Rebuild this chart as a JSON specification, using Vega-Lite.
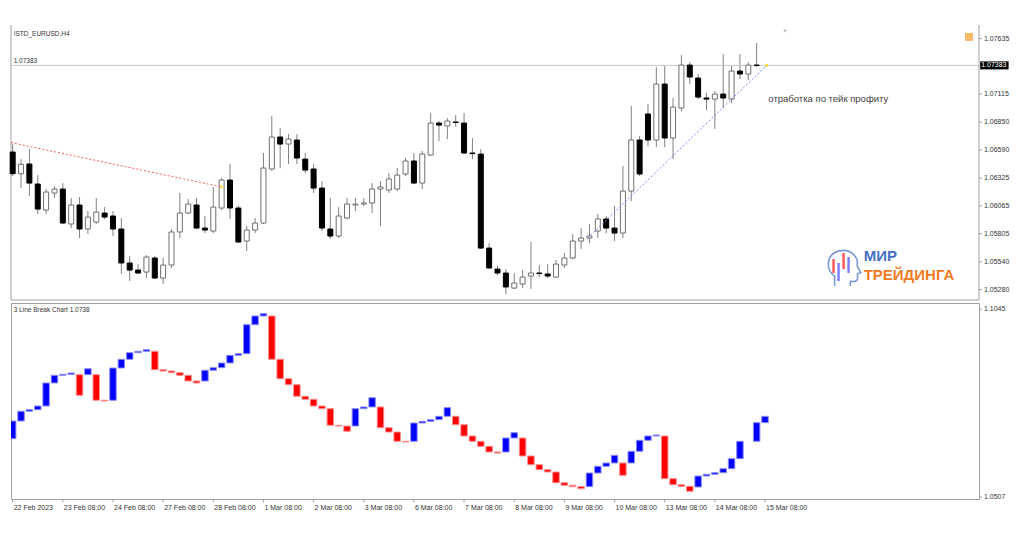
{
  "$schema": "https://vega.github.io/schema/vega-lite/v6.json",
  "padding": {"left": 9, "top": 24, "right": 0, "bottom": 0},
  "background": "#ffffff",
  "config": {
    "view": {"stroke": "#a0a0a0"},
    "text": {"font": "Liberation Sans"}
  },
  "spacing": 1,
  "resolve": {"scale": {"x": "independent", "y": "independent"}},
  "datasets": {
    "candles": [
      {"i":0,"o":1.06570,"h":1.06645,"l":1.06345,"c":1.06367},
      {"i":1,"o":1.06367,"h":1.06504,"l":1.06232,"c":1.06455},
      {"i":2,"o":1.06458,"h":1.06598,"l":1.06157,"c":1.06279},
      {"i":3,"o":1.06270,"h":1.06354,"l":1.05988,"c":1.06035},
      {"i":4,"o":1.06026,"h":1.06223,"l":1.05988,"c":1.06195},
      {"i":5,"o":1.06186,"h":1.06251,"l":1.06139,"c":1.06223},
      {"i":6,"o":1.06223,"h":1.06279,"l":1.05895,"c":1.05904},
      {"i":7,"o":1.05895,"h":1.06139,"l":1.05857,"c":1.06073},
      {"i":8,"o":1.06073,"h":1.06148,"l":1.05763,"c":1.05848},
      {"i":9,"o":1.05848,"h":1.06017,"l":1.05801,"c":1.05960},
      {"i":10,"o":1.05913,"h":1.06139,"l":1.05895,"c":1.06007},
      {"i":11,"o":1.05998,"h":1.06054,"l":1.05942,"c":1.05960},
      {"i":12,"o":1.05970,"h":1.06017,"l":1.05782,"c":1.05848},
      {"i":13,"o":1.05848,"h":1.05951,"l":1.05426,"c":1.05529},
      {"i":14,"o":1.05529,"h":1.05594,"l":1.05360,"c":1.05463},
      {"i":15,"o":1.05463,"h":1.05519,"l":1.05426,"c":1.05435},
      {"i":16,"o":1.05444,"h":1.05604,"l":1.05388,"c":1.05585},
      {"i":17,"o":1.05576,"h":1.05594,"l":1.05379,"c":1.05388},
      {"i":18,"o":1.05388,"h":1.05576,"l":1.05332,"c":1.05510},
      {"i":19,"o":1.05510,"h":1.05848,"l":1.05482,"c":1.05820},
      {"i":20,"o":1.05820,"h":1.06186,"l":1.05763,"c":1.05998},
      {"i":21,"o":1.05998,"h":1.06129,"l":1.05988,"c":1.06082},
      {"i":22,"o":1.06073,"h":1.06139,"l":1.05848,"c":1.05857},
      {"i":23,"o":1.05857,"h":1.05970,"l":1.05810,"c":1.05838},
      {"i":24,"o":1.05829,"h":1.06242,"l":1.05810,"c":1.06054},
      {"i":25,"o":1.06045,"h":1.06326,"l":1.06026,"c":1.06307},
      {"i":26,"o":1.06307,"h":1.06458,"l":1.05942,"c":1.06045},
      {"i":27,"o":1.06045,"h":1.06064,"l":1.05716,"c":1.05726},
      {"i":28,"o":1.05735,"h":1.05876,"l":1.05641,"c":1.05838},
      {"i":29,"o":1.05838,"h":1.05951,"l":1.05810,"c":1.05904},
      {"i":30,"o":1.05904,"h":1.06561,"l":1.05895,"c":1.06420},
      {"i":31,"o":1.06411,"h":1.06908,"l":1.06392,"c":1.06711},
      {"i":32,"o":1.06711,"h":1.06795,"l":1.06420,"c":1.06645},
      {"i":33,"o":1.06645,"h":1.06739,"l":1.06458,"c":1.06692},
      {"i":34,"o":1.06683,"h":1.06739,"l":1.06458,"c":1.06514},
      {"i":35,"o":1.06504,"h":1.06561,"l":1.06373,"c":1.06401},
      {"i":36,"o":1.06411,"h":1.06458,"l":1.06186,"c":1.06232},
      {"i":37,"o":1.06232,"h":1.06298,"l":1.05829,"c":1.05857},
      {"i":38,"o":1.05848,"h":1.06139,"l":1.05754,"c":1.05782},
      {"i":39,"o":1.05782,"h":1.06054,"l":1.05763,"c":1.05970},
      {"i":40,"o":1.05951,"h":1.06139,"l":1.05942,"c":1.06082},
      {"i":41,"o":1.06073,"h":1.06139,"l":1.06017,"c":1.06082},
      {"i":42,"o":1.06082,"h":1.06139,"l":1.06064,"c":1.06092},
      {"i":43,"o":1.06092,"h":1.06279,"l":1.05998,"c":1.06223},
      {"i":44,"o":1.06223,"h":1.06298,"l":1.05876,"c":1.06242},
      {"i":45,"o":1.06214,"h":1.06373,"l":1.06186,"c":1.06317},
      {"i":46,"o":1.06223,"h":1.06420,"l":1.06204,"c":1.06354},
      {"i":47,"o":1.06364,"h":1.06514,"l":1.06345,"c":1.06486},
      {"i":48,"o":1.06486,"h":1.06561,"l":1.06270,"c":1.06279},
      {"i":49,"o":1.06279,"h":1.06580,"l":1.06223,"c":1.06551},
      {"i":50,"o":1.06542,"h":1.06936,"l":1.06533,"c":1.06842},
      {"i":51,"o":1.06842,"h":1.06861,"l":1.06673,"c":1.06823},
      {"i":52,"o":1.06814,"h":1.06889,"l":1.06692,"c":1.06861},
      {"i":53,"o":1.06852,"h":1.06917,"l":1.06805,"c":1.06847},
      {"i":54,"o":1.06842,"h":1.06936,"l":1.06551,"c":1.06561},
      {"i":55,"o":1.06561,"h":1.06701,"l":1.06504,"c":1.06555},
      {"i":56,"o":1.06551,"h":1.06598,"l":1.05660,"c":1.05669},
      {"i":57,"o":1.05669,"h":1.05716,"l":1.05472,"c":1.05482},
      {"i":58,"o":1.05472,"h":1.05501,"l":1.05416,"c":1.05435},
      {"i":59,"o":1.05435,"h":1.05472,"l":1.05238,"c":1.05304},
      {"i":60,"o":1.05294,"h":1.05435,"l":1.05285,"c":1.05341},
      {"i":61,"o":1.05332,"h":1.05463,"l":1.05294,"c":1.05397},
      {"i":62,"o":1.05407,"h":1.05726,"l":1.05285,"c":1.05435},
      {"i":63,"o":1.05435,"h":1.05510,"l":1.05397,"c":1.05430},
      {"i":64,"o":1.05426,"h":1.05519,"l":1.05388,"c":1.05407},
      {"i":65,"o":1.05397,"h":1.05557,"l":1.05388,"c":1.05519},
      {"i":66,"o":1.05510,"h":1.05623,"l":1.05482,"c":1.05576},
      {"i":67,"o":1.05576,"h":1.05801,"l":1.05566,"c":1.05735},
      {"i":68,"o":1.05735,"h":1.05857,"l":1.05660,"c":1.05763},
      {"i":69,"o":1.05763,"h":1.05895,"l":1.05716,"c":1.05782},
      {"i":70,"o":1.05829,"h":1.05988,"l":1.05763,"c":1.05942},
      {"i":71,"o":1.05942,"h":1.05970,"l":1.05810,"c":1.05857},
      {"i":72,"o":1.05857,"h":1.06064,"l":1.05735,"c":1.05810},
      {"i":73,"o":1.05810,"h":1.06439,"l":1.05763,"c":1.06204},
      {"i":74,"o":1.06204,"h":1.07002,"l":1.06110,"c":1.06683},
      {"i":75,"o":1.06683,"h":1.06720,"l":1.06345,"c":1.06364},
      {"i":76,"o":1.06927,"h":1.07020,"l":1.06626,"c":1.06683},
      {"i":77,"o":1.06683,"h":1.07368,"l":1.06617,"c":1.07208},
      {"i":78,"o":1.07208,"h":1.07377,"l":1.06617,"c":1.06702},
      {"i":79,"o":1.06702,"h":1.07077,"l":1.06504,"c":1.06992},
      {"i":80,"o":1.06983,"h":1.07480,"l":1.06955,"c":1.07386},
      {"i":81,"o":1.07386,"h":1.07415,"l":1.07208,"c":1.07274},
      {"i":82,"o":1.07264,"h":1.07302,"l":1.07067,"c":1.07086},
      {"i":83,"o":1.07077,"h":1.07124,"l":1.06964,"c":1.07067},
      {"i":84,"o":1.07067,"h":1.07142,"l":1.06786,"c":1.07114},
      {"i":85,"o":1.07114,"h":1.07490,"l":1.06983,"c":1.07077},
      {"i":86,"o":1.07067,"h":1.07377,"l":1.07030,"c":1.07330},
      {"i":87,"o":1.07330,"h":1.07490,"l":1.07255,"c":1.07302},
      {"i":88,"o":1.07302,"h":1.07415,"l":1.07246,"c":1.07386},
      {"i":89,"o":1.07386,"h":1.07593,"l":1.07368,"c":1.07383}
    ],
    "bricks": [
      {"i":0,"lo":1.06741,"hi":1.07248,"d":"up"},
      {"i":1,"lo":1.07248,"hi":1.07527,"d":"up"},
      {"i":2,"lo":1.07527,"hi":1.07572,"d":"up"},
      {"i":3,"lo":1.07572,"hi":1.07678,"d":"up"},
      {"i":4,"lo":1.07678,"hi":1.08338,"d":"up"},
      {"i":5,"lo":1.08338,"hi":1.08558,"d":"up"},
      {"i":6,"lo":1.08558,"hi":1.08587,"d":"up"},
      {"i":7,"lo":1.08587,"hi":1.08624,"d":"up"},
      {"i":8,"lo":1.07985,"hi":1.08575,"d":"down"},
      {"i":9,"lo":1.08575,"hi":1.08747,"d":"up"},
      {"i":10,"lo":1.07842,"hi":1.08575,"d":"down"},
      {"i":11,"lo":1.07822,"hi":1.07842,"d":"down"},
      {"i":12,"lo":1.07842,"hi":1.08767,"d":"up"},
      {"i":13,"lo":1.08767,"hi":1.09017,"d":"up"},
      {"i":14,"lo":1.09017,"hi":1.09206,"d":"up"},
      {"i":15,"lo":1.09206,"hi":1.09246,"d":"up"},
      {"i":16,"lo":1.09246,"hi":1.09292,"d":"up"},
      {"i":17,"lo":1.08719,"hi":1.09246,"d":"down"},
      {"i":18,"lo":1.08681,"hi":1.08719,"d":"down"},
      {"i":19,"lo":1.08633,"hi":1.08681,"d":"down"},
      {"i":20,"lo":1.08558,"hi":1.08633,"d":"down"},
      {"i":21,"lo":1.08395,"hi":1.08558,"d":"down"},
      {"i":22,"lo":1.08338,"hi":1.08395,"d":"down"},
      {"i":23,"lo":1.08395,"hi":1.08702,"d":"up"},
      {"i":24,"lo":1.08702,"hi":1.08776,"d":"up"},
      {"i":25,"lo":1.08776,"hi":1.08911,"d":"up"},
      {"i":26,"lo":1.08911,"hi":1.09131,"d":"up"},
      {"i":27,"lo":1.09131,"hi":1.09177,"d":"up"},
      {"i":28,"lo":1.09177,"hi":1.10008,"d":"up"},
      {"i":29,"lo":1.10008,"hi":1.10258,"d":"up"},
      {"i":30,"lo":1.10258,"hi":1.10324,"d":"up"},
      {"i":31,"lo":1.09017,"hi":1.10258,"d":"down"},
      {"i":32,"lo":1.08461,"hi":1.09017,"d":"down"},
      {"i":33,"lo":1.08289,"hi":1.08461,"d":"down"},
      {"i":34,"lo":1.07956,"hi":1.08289,"d":"down"},
      {"i":35,"lo":1.07870,"hi":1.07956,"d":"down"},
      {"i":36,"lo":1.07678,"hi":1.07870,"d":"down"},
      {"i":37,"lo":1.07601,"hi":1.07678,"d":"down"},
      {"i":38,"lo":1.07125,"hi":1.07601,"d":"down"},
      {"i":39,"lo":1.07105,"hi":1.07125,"d":"down"},
      {"i":40,"lo":1.06953,"hi":1.07105,"d":"down"},
      {"i":41,"lo":1.07105,"hi":1.07601,"d":"up"},
      {"i":42,"lo":1.07601,"hi":1.07650,"d":"up"},
      {"i":43,"lo":1.07650,"hi":1.07916,"d":"up"},
      {"i":44,"lo":1.07056,"hi":1.07650,"d":"down"},
      {"i":45,"lo":1.06933,"hi":1.07056,"d":"down"},
      {"i":46,"lo":1.06667,"hi":1.06933,"d":"down"},
      {"i":47,"lo":1.06647,"hi":1.06667,"d":"down"},
      {"i":48,"lo":1.06667,"hi":1.07191,"d":"up"},
      {"i":49,"lo":1.07191,"hi":1.07240,"d":"up"},
      {"i":50,"lo":1.07240,"hi":1.07286,"d":"up"},
      {"i":51,"lo":1.07286,"hi":1.07383,"d":"up"},
      {"i":52,"lo":1.07383,"hi":1.07630,"d":"up"},
      {"i":53,"lo":1.07142,"hi":1.07383,"d":"down"},
      {"i":54,"lo":1.06819,"hi":1.07142,"d":"down"},
      {"i":55,"lo":1.06667,"hi":1.06819,"d":"down"},
      {"i":56,"lo":1.06523,"hi":1.06667,"d":"down"},
      {"i":57,"lo":1.06360,"hi":1.06523,"d":"down"},
      {"i":58,"lo":1.06331,"hi":1.06360,"d":"down"},
      {"i":59,"lo":1.06360,"hi":1.06761,"d":"up"},
      {"i":60,"lo":1.06761,"hi":1.06913,"d":"up"},
      {"i":61,"lo":1.06245,"hi":1.06761,"d":"down"},
      {"i":62,"lo":1.05996,"hi":1.06245,"d":"down"},
      {"i":63,"lo":1.05853,"hi":1.05996,"d":"down"},
      {"i":64,"lo":1.05787,"hi":1.05853,"d":"down"},
      {"i":65,"lo":1.05480,"hi":1.05787,"d":"down"},
      {"i":66,"lo":1.05406,"hi":1.05480,"d":"down"},
      {"i":67,"lo":1.05366,"hi":1.05406,"d":"down"},
      {"i":68,"lo":1.05308,"hi":1.05366,"d":"down"},
      {"i":69,"lo":1.05366,"hi":1.05758,"d":"up"},
      {"i":70,"lo":1.05758,"hi":1.05950,"d":"up"},
      {"i":71,"lo":1.05950,"hi":1.06045,"d":"up"},
      {"i":72,"lo":1.06045,"hi":1.06265,"d":"up"},
      {"i":73,"lo":1.05692,"hi":1.06045,"d":"down"},
      {"i":74,"lo":1.06045,"hi":1.06380,"d":"up"},
      {"i":75,"lo":1.06380,"hi":1.06695,"d":"up"},
      {"i":76,"lo":1.06695,"hi":1.06819,"d":"up"},
      {"i":77,"lo":1.06819,"hi":1.06847,"d":"up"},
      {"i":78,"lo":1.05595,"hi":1.06819,"d":"down"},
      {"i":79,"lo":1.05423,"hi":1.05595,"d":"down"},
      {"i":80,"lo":1.05377,"hi":1.05423,"d":"down"},
      {"i":81,"lo":1.05234,"hi":1.05377,"d":"down"},
      {"i":82,"lo":1.05357,"hi":1.05672,"d":"up"},
      {"i":83,"lo":1.05672,"hi":1.05721,"d":"up"},
      {"i":84,"lo":1.05721,"hi":1.05767,"d":"up"},
      {"i":85,"lo":1.05767,"hi":1.05881,"d":"up"},
      {"i":86,"lo":1.05881,"hi":1.06168,"d":"up"},
      {"i":87,"lo":1.06168,"hi":1.06667,"d":"up"},
      {"i":89,"lo":1.06667,"hi":1.07200,"d":"up"},
      {"i":90,"lo":1.07200,"hi":1.07383,"d":"up"}
    ],
    "lines": [
      {"g":"r","i":-0.2,"p":1.06659,"end":false},
      {"g":"r","i":25,"p":1.06243,"end":true},
      {"g":"b","i":68.8,"p":1.05764,"end":false},
      {"g":"b","i":90.2,"p":1.07383,"end":true}
    ],
    "logo": [
      {"i":98.2,"a":1.05566,"b":1.05435,"k":"o"},
      {"i":98.8,"a":1.05529,"b":1.05360,"k":"b"},
      {"i":99.4,"a":1.05623,"b":1.05472,"k":"o"},
      {"i":100.0,"a":1.05585,"b":1.05435,"k":"b"}
    ],
    "dates": [
      {"i":0,"t":"22 Feb 2023"},
      {"i":6,"t":"23 Feb 08:00"},
      {"i":12,"t":"24 Feb 08:00"},
      {"i":18,"t":"27 Feb 08:00"},
      {"i":24,"t":"28 Feb 08:00"},
      {"i":30,"t":"1 Mar 08:00"},
      {"i":36,"t":"2 Mar 08:00"},
      {"i":42,"t":"3 Mar 08:00"},
      {"i":48,"t":"6 Mar 08:00"},
      {"i":54,"t":"7 Mar 08:00"},
      {"i":60,"t":"8 Mar 08:00"},
      {"i":66,"t":"9 Mar 08:00"},
      {"i":72,"t":"10 Mar 08:00"},
      {"i":78,"t":"13 Mar 08:00"},
      {"i":84,"t":"14 Mar 08:00"},
      {"i":90,"t":"15 Mar 08:00"}
    ],
    "pticks": [
      {"v":1.07635},{"v":1.07115},{"v":1.06850},{"v":1.06590},{"v":1.06325},
      {"v":1.06065},{"v":1.05805},{"v":1.05540},{"v":1.05280}
    ],
    "bticks": [{"v":1.1045},{"v":1.0507}]
  },
  "vconcat": [
    {
      "width": 968,
      "height": 275,
      "view": {"stroke": null},
      "layer": [
        {
          "data": {"name": "candles"},
          "mark": {"type": "rule", "color": "#808080", "strokeWidth": 1},
          "encoding": {
            "x": {"field": "i", "type": "quantitative", "scale": {"domain": [-0.2, 115.6], "nice": false, "zero": false, "padding": 0}, "axis": null},
            "y": {"field": "l", "type": "quantitative", "scale": {"domain": [1.05182, 1.07762], "nice": false, "zero": false, "padding": 0}, "axis": null},
            "y2": {"field": "h"}
          }
        },
        {
          "data": {"values": [{}]},
          "mark": {"type": "rule", "color": "#c8c8c8", "strokeWidth": 1},
          "encoding": {
            "y": {"datum": 1.07383, "type": "quantitative", "scale": {"domain": [1.05182, 1.07762], "nice": false, "zero": false, "padding": 0}, "axis": null}
          }
        },
        {
          "data": {"values": [{}]},
          "mark": {"type": "rule", "color": "#a0a0a0", "strokeWidth": 1},
          "encoding": {
            "x": {"datum": -0.2, "type": "quantitative", "scale": {"domain": [-0.2, 115.6], "nice": false, "zero": false, "padding": 0}, "axis": null}
          }
        },
        {
          "data": {"values": [{}]},
          "mark": {"type": "rule", "color": "#a0a0a0", "strokeWidth": 1},
          "encoding": {
            "x": {"datum": 115.6, "type": "quantitative", "scale": {"domain": [-0.2, 115.6], "nice": false, "zero": false, "padding": 0}, "axis": null}
          }
        },
        {
          "data": {"values": [{}]},
          "mark": {"type": "rule", "color": "#a0a0a0", "strokeWidth": 1},
          "encoding": {
            "y": {"datum": 1.05182, "type": "quantitative", "scale": {"domain": [1.05182, 1.07762], "nice": false, "zero": false, "padding": 0}, "axis": null}
          }
        },
        {
          "data": {"name": "candles"},
          "mark": {"type": "bar", "width": 5, "strokeWidth": 1},
          "encoding": {
            "x": {"field": "i", "type": "quantitative", "scale": {"domain": [-0.2, 115.6], "nice": false, "zero": false, "padding": 0}, "axis": null},
            "y": {"field": "o", "type": "quantitative", "scale": {"domain": [1.05182, 1.07762], "nice": false, "zero": false, "padding": 0}, "axis": null},
            "y2": {"field": "c"},
            "fill": {"condition": {"test": "datum.c >= datum.o", "value": "#ffffff"}, "value": "#000000"},
            "stroke": {"condition": {"test": "datum.c >= datum.o", "value": "#707070"}, "value": "#000000"}
          }
        },
        {
          "data": {"name": "lines"},
          "mark": {"type": "line", "strokeDash": [2, 2], "strokeWidth": 1, "clip": true},
          "encoding": {
            "x": {"field": "i", "type": "quantitative", "scale": {"domain": [-0.2, 115.6], "nice": false, "zero": false, "padding": 0}, "axis": null},
            "y": {"field": "p", "type": "quantitative", "scale": {"domain": [1.05182, 1.07762], "nice": false, "zero": false, "padding": 0}, "axis": null},
            "color": {"field": "g", "type": "nominal", "scale": {"domain": ["r", "b"], "range": ["#ff5a5a", "#8080ff"]}, "legend": null}
          }
        },
        {
          "data": {"name": "lines"},
          "transform": [{"filter": "datum.end"}],
          "mark": {"type": "point", "shape": "square", "size": 8, "filled": true, "color": "#ffe000"},
          "encoding": {
            "x": {"field": "i", "type": "quantitative", "scale": {"domain": [-0.2, 115.6], "nice": false, "zero": false, "padding": 0}, "axis": null},
            "y": {"field": "p", "type": "quantitative", "scale": {"domain": [1.05182, 1.07762], "nice": false, "zero": false, "padding": 0}, "axis": null}
          }
        },
        {
          "data": {"values": [{}]},
          "mark": {"type": "text", "align": "left", "baseline": "middle", "fontSize": 6.5, "color": "#333333", "dx": 1, "text": "!STD_EURUSD,H4"},
          "encoding": {
            "x": {"datum": 0, "type": "quantitative", "scale": {"domain": [-0.2, 115.6], "nice": false, "zero": false, "padding": 0}, "axis": null},
            "y": {"datum": 1.07677, "type": "quantitative", "scale": {"domain": [1.05182, 1.07762], "nice": false, "zero": false, "padding": 0}, "axis": null}
          }
        },
        {
          "data": {"values": [{}]},
          "mark": {"type": "text", "align": "left", "baseline": "bottom", "fontSize": 6.5, "color": "#333333", "dx": 1, "dy": -1, "text": "1.07383"},
          "encoding": {
            "x": {"datum": 0, "type": "quantitative", "scale": {"domain": [-0.2, 115.6], "nice": false, "zero": false, "padding": 0}, "axis": null},
            "y": {"datum": 1.07383, "type": "quantitative", "scale": {"domain": [1.05182, 1.07762], "nice": false, "zero": false, "padding": 0}, "axis": null}
          }
        },
        {
          "data": {"values": [{}]},
          "mark": {"type": "text", "align": "left", "baseline": "middle", "fontSize": 9.5, "color": "#404040", "text": "отработка по тейк профиту"},
          "encoding": {
            "x": {"datum": 90.4, "type": "quantitative", "scale": {"domain": [-0.2, 115.6], "nice": false, "zero": false, "padding": 0}, "axis": null},
            "y": {"datum": 1.07067, "type": "quantitative", "scale": {"domain": [1.05182, 1.07762], "nice": false, "zero": false, "padding": 0}, "axis": null}
          }
        },
        {
          "data": {"values": [{}]},
          "mark": {"type": "point", "shape": "M -0.45 1 L -0.45 0.45 C -0.95 0.1 -0.95 -0.75 -0.2 -0.95 C 0.45 -1.1 0.9 -0.6 0.8 -0.1 L 1 0.25 L 0.82 0.32 L 0.82 0.6 C 0.8 0.78 0.6 0.76 0.42 0.74 L 0.42 1", "size": 1300, "filled": false, "strokeWidth": 1.6, "color": "#4470c4"},
          "encoding": {
            "x": {"datum": 99.3, "type": "quantitative", "scale": {"domain": [-0.2, 115.6], "nice": false, "zero": false, "padding": 0}, "axis": null},
            "y": {"datum": 1.05482, "type": "quantitative", "scale": {"domain": [1.05182, 1.07762], "nice": false, "zero": false, "padding": 0}, "axis": null}
          }
        },
        {
          "data": {"name": "logo"},
          "mark": {"type": "rule", "strokeWidth": 2.5},
          "encoding": {
            "x": {"field": "i", "type": "quantitative", "scale": {"domain": [-0.2, 115.6], "nice": false, "zero": false, "padding": 0}, "axis": null},
            "y": {"field": "b", "type": "quantitative", "scale": {"domain": [1.05182, 1.07762], "nice": false, "zero": false, "padding": 0}, "axis": null},
            "y2": {"field": "a"},
            "color": {"field": "k", "type": "nominal", "scale": {"domain": ["o", "b"], "range": ["#f07a22", "#4470c4"]}, "legend": null}
          }
        },
        {
          "data": {"values": [{}]},
          "mark": {"type": "text", "align": "left", "baseline": "middle", "fontSize": 15, "fontWeight": "bold", "color": "#4470c4", "text": "МИР"},
          "encoding": {
            "x": {"datum": 101.8, "type": "quantitative", "scale": {"domain": [-0.2, 115.6], "nice": false, "zero": false, "padding": 0}, "axis": null},
            "y": {"datum": 1.05597, "type": "quantitative", "scale": {"domain": [1.05182, 1.07762], "nice": false, "zero": false, "padding": 0}, "axis": null}
          }
        },
        {
          "data": {"values": [{}]},
          "mark": {"type": "text", "align": "left", "baseline": "middle", "fontSize": 15, "fontWeight": "bold", "color": "#f07a22", "text": "ТРЕЙДИНГА"},
          "encoding": {
            "x": {"datum": 101.8, "type": "quantitative", "scale": {"domain": [-0.2, 115.6], "nice": false, "zero": false, "padding": 0}, "axis": null},
            "y": {"datum": 1.0542, "type": "quantitative", "scale": {"domain": [1.05182, 1.07762], "nice": false, "zero": false, "padding": 0}, "axis": null}
          }
        },
        {
          "data": {"values": [{}]},
          "mark": {"type": "point", "shape": "square", "size": 64, "filled": true, "color": "#f5a02a"},
          "encoding": {
            "x": {"datum": 114.4, "type": "quantitative", "scale": {"domain": [-0.2, 115.6], "nice": false, "zero": false, "padding": 0}, "axis": null},
            "y": {"datum": 1.0765, "type": "quantitative", "scale": {"domain": [1.05182, 1.07762], "nice": false, "zero": false, "padding": 0}, "axis": null}
          }
        },
        {
          "data": {"values": [{}]},
          "mark": {"type": "point", "shape": "triangle-down", "size": 14, "filled": true, "color": "#a0a0a0"},
          "encoding": {
            "x": {"datum": 92.4, "type": "quantitative", "scale": {"domain": [-0.2, 115.6], "nice": false, "zero": false, "padding": 0}, "axis": null},
            "y": {"datum": 1.07705, "type": "quantitative", "scale": {"domain": [1.05182, 1.07762], "nice": false, "zero": false, "padding": 0}, "axis": null}
          }
        },
        {
          "data": {"name": "pticks"},
          "mark": {"type": "rule", "color": "#a0a0a0", "strokeWidth": 1, "clip": false},
          "encoding": {
            "x": {"datum": 115.6, "type": "quantitative", "scale": {"domain": [-0.2, 115.6], "nice": false, "zero": false, "padding": 0}, "axis": null},
            "x2": {"datum": 115.95},
            "y": {"field": "v", "type": "quantitative", "scale": {"domain": [1.05182, 1.07762], "nice": false, "zero": false, "padding": 0}, "axis": null}
          }
        },
        {
          "data": {"name": "pticks"},
          "mark": {"type": "text", "align": "left", "baseline": "middle", "fontSize": 7, "color": "#333333", "dx": 5, "clip": false},
          "encoding": {
            "x": {"datum": 115.6, "type": "quantitative", "scale": {"domain": [-0.2, 115.6], "nice": false, "zero": false, "padding": 0}, "axis": null},
            "y": {"field": "v", "type": "quantitative", "scale": {"domain": [1.05182, 1.07762], "nice": false, "zero": false, "padding": 0}, "axis": null},
            "text": {"field": "v", "type": "quantitative", "format": ".5f"}
          }
        },
        {
          "data": {"values": [{}]},
          "mark": {"type": "rule", "color": "#000000", "strokeWidth": 8, "clip": false},
          "encoding": {
            "x": {"datum": 115.74, "type": "quantitative", "scale": {"domain": [-0.2, 115.6], "nice": false, "zero": false, "padding": 0}, "axis": null},
            "x2": {"datum": 119.14},
            "y": {"datum": 1.07383, "type": "quantitative", "scale": {"domain": [1.05182, 1.07762], "nice": false, "zero": false, "padding": 0}, "axis": null}
          }
        },
        {
          "data": {"values": [{}]},
          "mark": {"type": "text", "align": "left", "baseline": "middle", "fontSize": 7, "color": "#ffffff", "dx": 1, "clip": false, "text": "1.07383"},
          "encoding": {
            "x": {"datum": 115.74, "type": "quantitative", "scale": {"domain": [-0.2, 115.6], "nice": false, "zero": false, "padding": 0}, "axis": null},
            "y": {"datum": 1.07383, "type": "quantitative", "scale": {"domain": [1.05182, 1.07762], "nice": false, "zero": false, "padding": 0}, "axis": null}
          }
        }
      ]
    },
    {
      "width": 968,
      "height": 196,
      "layer": [
        {
          "data": {"name": "bricks"},
          "mark": {"type": "bar", "width": 6.5, "strokeWidth": 1, "clip": true},
          "encoding": {
            "x": {"field": "i", "type": "quantitative", "scale": {"domain": [-0.2, 115.6], "nice": false, "zero": false, "padding": 0}, "axis": null},
            "y": {"field": "lo", "type": "quantitative", "scale": {"domain": [1.05013, 1.1063], "nice": false, "zero": false, "padding": 0}, "axis": null},
            "y2": {"field": "hi"},
            "fill": {"field": "d", "type": "nominal", "scale": {"domain": ["up", "down"], "range": ["#0000ff", "#ff0000"]}, "legend": null},
            "stroke": {"field": "d", "type": "nominal", "scale": {"domain": ["up", "down"], "range": ["#8c8cff", "#ff8c8c"]}, "legend": null}
          }
        },
        {
          "data": {"name": "dates"},
          "mark": {"type": "rule", "color": "#a0a0a0", "strokeWidth": 1, "clip": false},
          "encoding": {
            "x": {"field": "i", "type": "quantitative", "scale": {"domain": [-0.2, 115.6], "nice": false, "zero": false, "padding": 0}, "axis": null},
            "y": {"datum": 1.05013, "type": "quantitative", "scale": {"domain": [1.05013, 1.1063], "nice": false, "zero": false, "padding": 0}, "axis": null},
            "y2": {"datum": 1.04913}
          }
        },
        {
          "data": {"name": "dates"},
          "mark": {"type": "text", "align": "left", "baseline": "top", "fontSize": 7, "color": "#333333", "dx": 1, "dy": 5, "clip": false},
          "encoding": {
            "x": {"field": "i", "type": "quantitative", "scale": {"domain": [-0.2, 115.6], "nice": false, "zero": false, "padding": 0}, "axis": null},
            "y": {"datum": 1.05013, "type": "quantitative", "scale": {"domain": [1.05013, 1.1063], "nice": false, "zero": false, "padding": 0}, "axis": null},
            "text": {"field": "t"}
          }
        },
        {
          "data": {"name": "bticks"},
          "mark": {"type": "rule", "color": "#a0a0a0", "strokeWidth": 1, "clip": false},
          "encoding": {
            "x": {"datum": 115.6, "type": "quantitative", "scale": {"domain": [-0.2, 115.6], "nice": false, "zero": false, "padding": 0}, "axis": null},
            "x2": {"datum": 115.95},
            "y": {"field": "v", "type": "quantitative", "scale": {"domain": [1.05013, 1.1063], "nice": false, "zero": false, "padding": 0}, "axis": null}
          }
        },
        {
          "data": {"name": "bticks"},
          "mark": {"type": "text", "align": "left", "baseline": "middle", "fontSize": 7, "color": "#333333", "dx": 5, "clip": false},
          "encoding": {
            "x": {"datum": 115.6, "type": "quantitative", "scale": {"domain": [-0.2, 115.6], "nice": false, "zero": false, "padding": 0}, "axis": null},
            "y": {"field": "v", "type": "quantitative", "scale": {"domain": [1.05013, 1.1063], "nice": false, "zero": false, "padding": 0}, "axis": null},
            "text": {"field": "v", "type": "quantitative", "format": ".4f"}
          }
        },
        {
          "data": {"values": [{}]},
          "mark": {"type": "text", "align": "left", "baseline": "middle", "fontSize": 6.5, "color": "#333333", "dx": 1, "text": "3 Line Break Chart 1.0738"},
          "encoding": {
            "x": {"datum": 0, "type": "quantitative", "scale": {"domain": [-0.2, 115.6], "nice": false, "zero": false, "padding": 0}, "axis": null},
            "y": {"datum": 1.1043, "type": "quantitative", "scale": {"domain": [1.05013, 1.1063], "nice": false, "zero": false, "padding": 0}, "axis": null}
          }
        }
      ]
    }
  ]
}
